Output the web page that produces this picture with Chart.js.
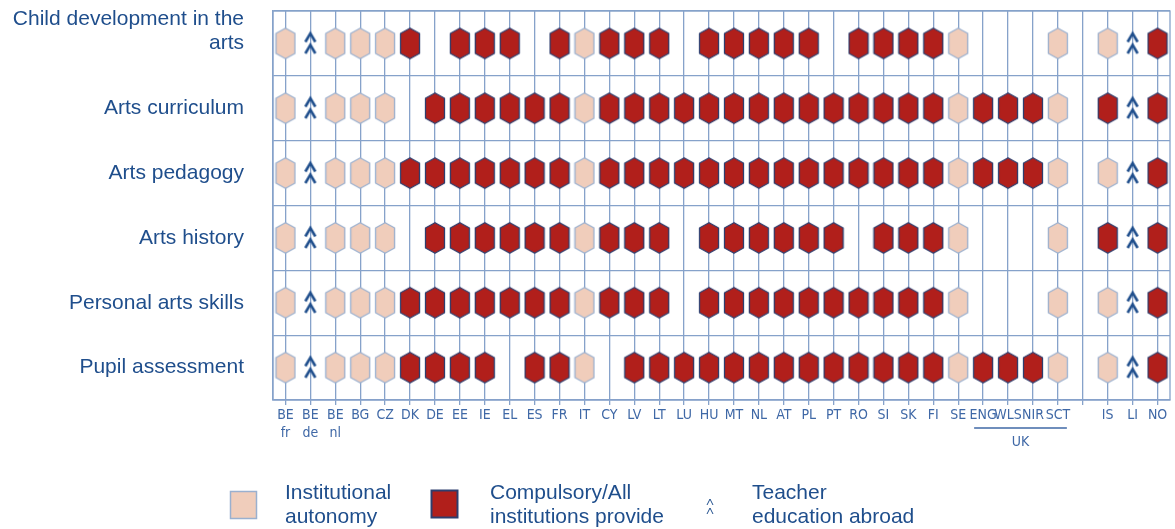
<!DOCTYPE html>
<html><head><meta charset="utf-8">
<script src="https://cdn.jsdelivr.net/npm/chart.js@4/dist/chart.umd.min.js"></script>
<style>html,body{margin:0;padding:0;background:#fff}canvas{display:block}</style>
</head><body>
<canvas id="c" width="1175" height="529"></canvas>
<script>
// ---- data ----
const countries = ['BE fr','BE de','BE nl','BG','CZ','DK','DE','EE','IE','EL','ES','FR','IT','CY','LV','LT','LU','HU','MT','NL','AT','PL','PT','RO','SI','SK','FI','SE','ENG','WLS','NIR','SCT','','IS','LI','NO'];
const ukGroup = ['ENG','WLS','NIR','SCT'];
const rowLabels = ['Child development in the arts','Arts curriculum','Arts pedagogy','Arts history','Personal arts skills','Pupil assessment'];
// A = institutional autonomy, C = compulsory/all institutions provide, T = teacher education abroad, - = none
const childDevelopment   = ['A','T','A','A','A','C','-','C','C','C','-','C','A','C','C','C','-','C','C','C','C','C','-','C','C','C','C','A','-','-','-','A','-','A','T','C'];
const artsCurriculum     = ['A','T','A','A','A','-','C','C','C','C','C','C','A','C','C','C','C','C','C','C','C','C','C','C','C','C','C','A','C','C','C','A','-','C','T','C'];
const artsPedagogy       = ['A','T','A','A','A','C','C','C','C','C','C','C','A','C','C','C','C','C','C','C','C','C','C','C','C','C','C','A','C','C','C','A','-','A','T','C'];
const artsHistory        = ['A','T','A','A','A','-','C','C','C','C','C','C','A','C','C','C','-','C','C','C','C','C','C','-','C','C','C','A','-','-','-','A','-','C','T','C'];
const personalArtsSkills = ['A','T','A','A','A','C','C','C','C','C','C','C','A','C','C','C','-','C','C','C','C','C','C','C','C','C','C','A','-','-','-','A','-','A','T','C'];
const pupilAssessment    = ['A','T','A','A','A','C','C','C','C','-','C','C','A','-','C','C','C','C','C','C','C','C','C','C','C','C','C','A','C','C','C','A','-','A','T','C'];
const statusRows = [childDevelopment, artsCurriculum, artsPedagogy, artsHistory, personalArtsSkills, pupilAssessment];
const legendTexts = {A:['Institutional','autonomy'], C:['Compulsory/All','institutions provide'], T:['Teacher','education abroad']};

// ---- styles ----
const gridColor = '#86A2CA';
const textBlue = '#1F4E8C';
const tickBlue = '#3F68A6';
const lightFill = '#F0CDBB', lightStroke = '#9AB0CF';
const redFill = '#B11F1B', redStroke = '#2E3E6E';
const mainFont = '"Liberation Sans", Arial, sans-serif';
const narrowFont = '"Liberation Sans Narrow", "DejaVu Sans Condensed", sans-serif';

function makeHex(fill, stroke, lw){
  const c = document.createElement('canvas'); c.width = 22; c.height = 34;
  const g = c.getContext('2d');
  const cx = 11, cy = 17, hw = 9.5, hh = 15.3, sh = 10;
  g.beginPath();
  g.moveTo(cx, cy-hh); g.lineTo(cx+hw, cy-sh); g.lineTo(cx+hw, cy+sh);
  g.lineTo(cx, cy+hh); g.lineTo(cx-hw, cy+sh); g.lineTo(cx-hw, cy-sh); g.closePath();
  g.fillStyle = fill; g.fill();
  g.lineJoin = 'round'; g.lineWidth = lw; g.strokeStyle = stroke; g.stroke();
  return c;
}
function makeCaret(){
  const c = document.createElement('canvas'); c.width = 14; c.height = 26;
  const g = c.getContext('2d');
  g.strokeStyle = textBlue; g.lineWidth = 2.6; g.lineJoin = 'miter';
  [3, 14.5].forEach(y0 => { g.beginPath(); g.moveTo(2, y0+8.5); g.lineTo(7, y0); g.lineTo(12, y0+8.5); g.stroke(); });
  return c;
}
const hexLight = makeHex(lightFill, lightStroke, 1.3);
const hexRed = makeHex(redFill, redStroke, 1.3);
const caretImg = makeCaret();

function pointsFor(code){
  const pts = [];
  statusRows.forEach((row, r) => row.forEach((s, c) => { if (s === code) pts.push({x: countries[c], y: rowLabels[r]}); }));
  return pts;
}
function wrapLabel(s){
  if (s.length <= 24) return s;
  const words = s.split(' '); const lines = [''];
  words.forEach(w => { const cur = lines[lines.length-1]; if ((cur + ' ' + w).trim().length > 24) lines.push(w); else lines[lines.length-1] = (cur + ' ' + w).trim(); });
  lines.push('');
  return lines;
}

const framePlugin = {
  id: 'frame',
  beforeDatasetsDraw(chart){
    const {ctx, chartArea: a} = chart;
    ctx.save(); ctx.strokeStyle = gridColor; ctx.lineWidth = 1.3;
    ctx.strokeRect(a.left, a.top, a.right - a.left, a.bottom - a.top);
    ctx.restore();
  }
};
const ukPlugin = {
  id: 'ukGroup',
  afterDraw(chart){
    const {ctx} = chart; const xs = chart.scales.x;
    const x0 = xs.getPixelForValue(countries.indexOf(ukGroup[0])) - 9;
    const x1 = xs.getPixelForValue(countries.indexOf(ukGroup[ukGroup.length-1])) + 9;
    ctx.save();
    ctx.strokeStyle = tickBlue; ctx.lineWidth = 1.5;
    ctx.beginPath(); ctx.moveTo(x0, 428); ctx.lineTo(x1, 428); ctx.stroke();
    ctx.fillStyle = tickBlue; ctx.font = '14px ' + narrowFont; ctx.textAlign = 'center'; ctx.textBaseline = 'middle';
    ctx.fillText('UK', (x0 + x1) / 2, 442);
    ctx.restore();
  }
};
const legendPlugin = {
  id: 'customLegend',
  afterDraw(chart){
    const {ctx} = chart;
    ctx.save();
    ctx.fillStyle = lightFill; ctx.fillRect(230.5, 491.5, 26, 27);
    ctx.strokeStyle = lightStroke; ctx.lineWidth = 1.5; ctx.strokeRect(230.5, 491.5, 26, 27);
    ctx.fillStyle = redFill; ctx.fillRect(431.5, 490.5, 26, 27);
    ctx.strokeStyle = redStroke; ctx.lineWidth = 2; ctx.strokeRect(431.5, 490.5, 26, 27);
    ctx.strokeStyle = textBlue; ctx.lineWidth = 1;
    [499, 508].forEach(y0 => { ctx.beginPath(); ctx.moveTo(707, y0+6); ctx.lineTo(710, y0); ctx.lineTo(713, y0+6); ctx.stroke(); });
    ctx.fillStyle = textBlue; ctx.font = '21px ' + mainFont; ctx.textBaseline = 'alphabetic'; ctx.textAlign = 'left';
    [['A', 285], ['C', 490], ['T', 752]].forEach(([k, x]) => {
      ctx.fillText(legendTexts[k][0], x, 499);
      ctx.fillText(legendTexts[k][1], x, 523);
    });
    ctx.restore();
  }
};

new Chart(document.getElementById('c'), {
  type: 'scatter',
  data: {
    datasets: [
      {label: 'Institutional autonomy', data: pointsFor('A'), pointStyle: hexLight, pointRadius: 10},
      {label: 'Compulsory/All institutions provide', data: pointsFor('C'), pointStyle: hexRed, pointRadius: 10},
      {label: 'Teacher education abroad', data: pointsFor('T'), pointStyle: caretImg, pointRadius: 10}
    ]
  },
  options: {
    responsive: false, animation: false, devicePixelRatio: 1,
    layout: {autoPadding: false, padding: {top: 11, right: 5, left: 0, bottom: 0}},
    plugins: {legend: {display: false}, tooltip: {enabled: false}},
    scales: {
      x: {
        type: 'category', labels: countries, offset: true,
        grid: {offset: false, color: gridColor, lineWidth: 1.3, tickLength: 5, drawTicks: true},
        border: {display: true, color: gridColor, width: 1.3},
        ticks: {autoSkip: false, maxRotation: 0, minRotation: 0, padding: 1, color: tickBlue,
          font: {family: narrowFont, size: 14, lineHeight: 1.3},
          callback: (v, i) => countries[i].split(' ')},
        afterFit: s => { s.height = 129; s.paddingLeft = 0; s.paddingRight = 0; }
      },
      y: {
        type: 'category', labels: rowLabels, offset: true,
        grid: {offset: true, color: gridColor, lineWidth: 1.3, drawTicks: false},
        border: {display: true, color: gridColor, width: 1.3},
        ticks: {autoSkip: false, padding: 29, color: textBlue, font: {family: mainFont, size: 21, lineHeight: 24/21},
          callback: (v, i) => wrapLabel(rowLabels[i])},
        afterFit: s => { s.width = 273; s.paddingTop = 0; s.paddingBottom = 0; }
      }
    }
  },
  plugins: [framePlugin, ukPlugin, legendPlugin]
});
</script>
</body></html>
